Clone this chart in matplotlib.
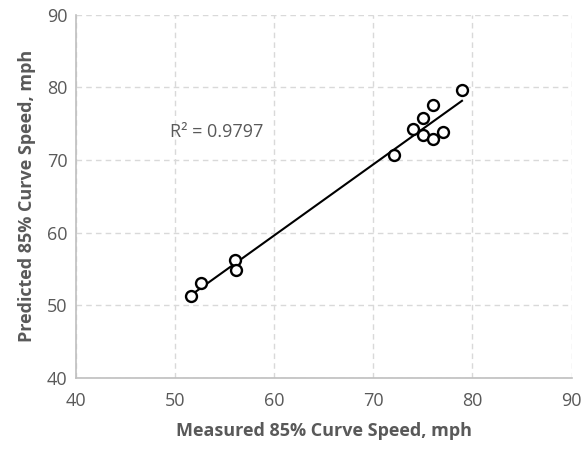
"""
Measured vs predicted 85% curve speed scatter with linear trendline
"""

import matplotlib.pyplot as plt
import numpy as np

# Data
measured = [51.6, 52.6, 56.0, 56.2, 72.1, 74.0, 75.0, 76.0, 75.0, 76.0, 77.0, 78.95]
predicted = [51.3, 53.1, 56.2, 54.8, 70.7, 74.3, 75.8, 77.6, 73.4, 72.9, 73.85, 79.7]
r2_label = 'R² = 0.9797'

x_ticks = [40, 50, 60, 70, 80, 90]
y_ticks = [40, 50, 60, 70, 80, 90]

GRAY_TEXT = '#595959'
GRID = '#d9d9d9'
AXIS = '#bfbfbf'

plt.rcParams['font.family'] = ['Open Sans', 'DejaVu Sans']

fig = plt.figure(figsize=(5.84, 4.53), dpi=100)
fig.patch.set_facecolor('white')
ax = fig.add_axes([0.130, 0.1656, 0.8486, 0.8019])

# Trendline (linear fit over data range)
slope, intercept = np.polyfit(measured, predicted, 1)
xs = np.array([min(measured), max(measured)])
ax.plot(xs, slope * xs + intercept, color='black', linewidth=1.5, zorder=3)

ax.scatter(measured, predicted, s=62, facecolors='white', edgecolors='black',
           linewidths=1.7, zorder=4)

ax.set_xlim(40, 90)
ax.set_ylim(40, 90)
ax.set_xticks(x_ticks)
ax.set_yticks(y_ticks)

ax.grid(True, color=GRID, linestyle=(0, (4, 3)), linewidth=1.0, zorder=0)
ax.set_axisbelow(True)

for side in ['top', 'right']:
    ax.spines[side].set_visible(False)
for side in ['left', 'bottom']:
    ax.spines[side].set_color(AXIS)
    ax.spines[side].set_linewidth(1.2)

ax.tick_params(axis='x', length=0, labelsize=13, labelcolor=GRAY_TEXT, pad=10)
ax.tick_params(axis='y', length=0, labelsize=13, labelcolor=GRAY_TEXT, pad=6)

ax.set_xlabel('Measured 85% Curve Speed, mph', fontsize=13, fontweight='bold',
              color=GRAY_TEXT, labelpad=9)
ax.set_ylabel('Predicted 85% Curve Speed, mph', fontsize=13, fontweight='bold',
              color=GRAY_TEXT, labelpad=8)

ax.text(49.5, 73.8, r2_label, fontsize=13, color=GRAY_TEXT, ha='left', va='center')

plt.savefig('out.png', dpi=100, facecolor='white')
plt.close()
